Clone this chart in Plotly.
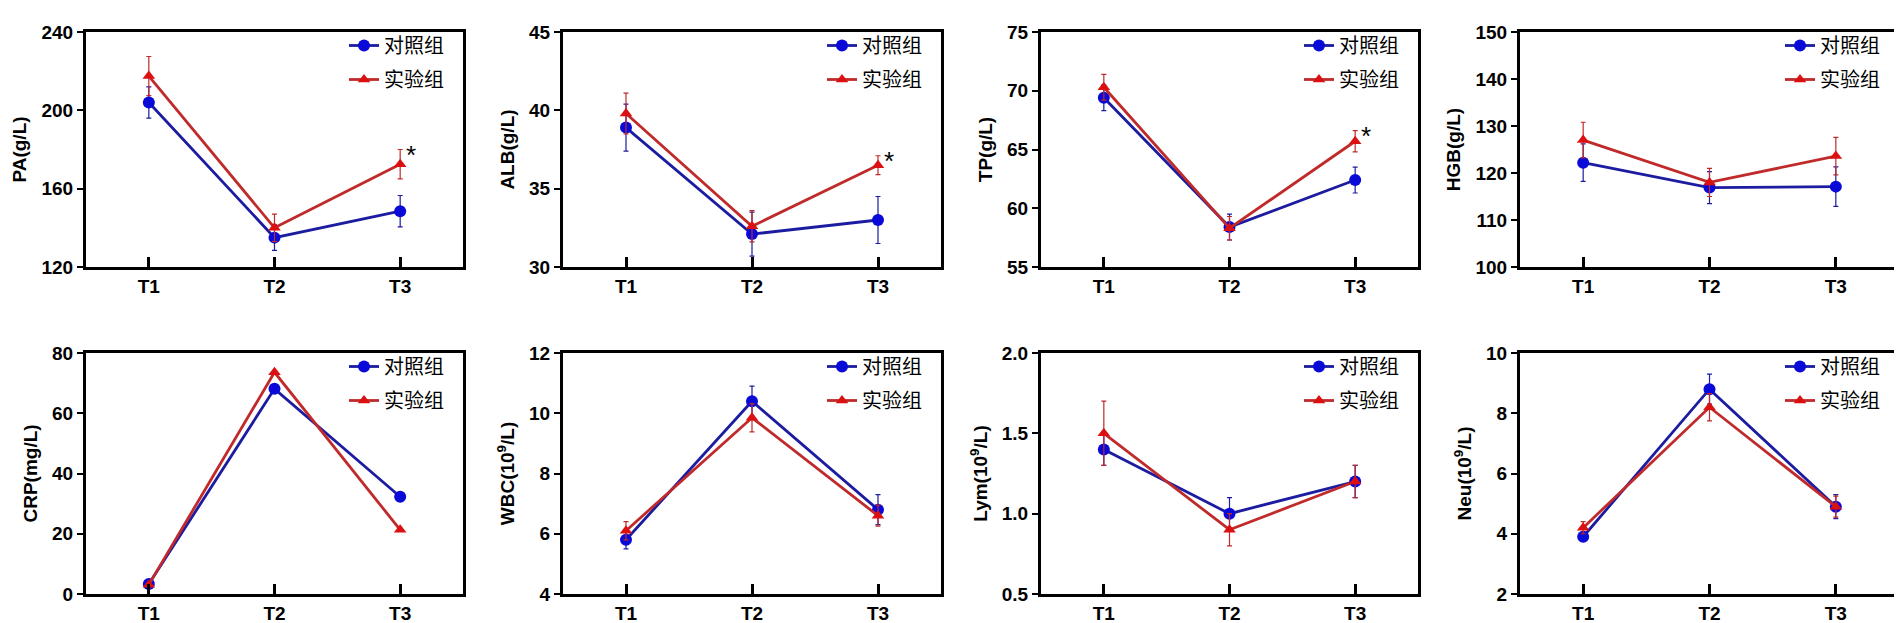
import plotly.graph_objects as go

W, H = 1902, 623

times = ["T1", "T2", "T3"]
group_names = ["对照组", "实验组"]

# values (mean, error)
pa_ctrl = [204.0, 135.0, 148.5]
pa_ctrl_err = [8.0, 6.5, 8.0]
pa_exp = [217.5, 140.0, 172.5]
pa_exp_err = [10.0, 7.0, 7.5]

alb_ctrl = [38.9, 32.1, 33.0]
alb_ctrl_err = [1.5, 1.4, 1.5]
alb_exp = [39.8, 32.6, 36.5]
alb_exp_err = [1.3, 1.0, 0.6]

tp_ctrl = [69.4, 58.4, 62.4]
tp_ctrl_err = [1.1, 1.1, 1.1]
tp_exp = [70.3, 58.3, 65.7]
tp_exp_err = [1.1, 1.0, 0.9]

hgb_ctrl = [122.2, 116.9, 117.1]
hgb_ctrl_err = [4.0, 3.4, 4.2]
hgb_exp = [127.0, 118.0, 123.6]
hgb_exp_err = [3.8, 3.0, 4.0]

crp_ctrl = [3.3, 68.1, 32.3]
crp_exp = [3.1, 73.6, 21.3]

wbc_ctrl = [5.8, 10.4, 6.8]
wbc_ctrl_err = [0.3, 0.5, 0.5]
wbc_exp = [6.1, 9.85, 6.6]
wbc_exp_err = [0.3, 0.47, 0.35]

lym_ctrl = [1.4, 1.0, 1.2]
lym_ctrl_err = [0.1, 0.1, 0.1]
lym_exp = [1.5, 0.9, 1.2]
lym_exp_err = [0.2, 0.1, 0.1]

neu_ctrl = [3.9, 8.8, 4.9]
neu_ctrl_err = [0.15, 0.5, 0.4]
neu_exp = [4.2, 8.2, 4.9]
neu_exp_err = [0.2, 0.45, 0.35]

panels = [
    ("PA(g/L)", pa_ctrl, pa_ctrl_err, pa_exp, pa_exp_err, [120, 240], 40, True),
    ("ALB(g/L)", alb_ctrl, alb_ctrl_err, alb_exp, alb_exp_err, [30, 45], 5, True),
    ("TP(g/L)", tp_ctrl, tp_ctrl_err, tp_exp, tp_exp_err, [55, 75], 5, True),
    ("HGB(g/L)", hgb_ctrl, hgb_ctrl_err, hgb_exp, hgb_exp_err, [100, 150], 10, False),
    ("CRP(mg/L)", crp_ctrl, None, crp_exp, None, [0, 80], 20, False),
    ("WBC(10<sup>9</sup>/L)", wbc_ctrl, wbc_ctrl_err, wbc_exp, wbc_exp_err, [4, 12], 2, False),
    ("Lym(10<sup>9</sup>/L)", lym_ctrl, lym_ctrl_err, lym_exp, lym_exp_err, [0.5, 2.0], 0.5, False),
    ("Neu(10<sup>9</sup>/L)", neu_ctrl, neu_ctrl_err, neu_exp, neu_exp_err, [2, 10], 2, False),
]

# panel boxes in pixels (left, right, top, bottom)
col_px = [(78, 455), (555, 933), (1033, 1410), (1512, 1891)]
row_px = [(24, 259), (345, 586)]

blue_line, blue_mark = "#1c1ca0", "#0a0ad8"
red_line, red_mark = "#c02a2a", "#dc1010"

tick_font = dict(family="Liberation Sans, Arial", size=19, color="black", weight="bold")

fig = go.Figure()
layout = dict(
    width=W, height=H, template="none",
    margin=dict(l=0, r=0, t=0, b=0),
    paper_bgcolor="white", plot_bgcolor="white",
    annotations=[],
)

for i, (ytitle, ctrl, ctrl_err, exp, exp_err, yr, dt, star) in enumerate(panels):
    n = i + 1
    r, c = divmod(i, 4)
    left, right = col_px[c]
    top, bottom = row_px[r]
    xa = "xaxis" if n == 1 else f"xaxis{n}"
    ya = "yaxis" if n == 1 else f"yaxis{n}"
    xref = "x" if n == 1 else f"x{n}"
    yref = "y" if n == 1 else f"y{n}"
    leg = "legend" if n == 1 else f"legend{n}"

    for name, vals, errs, lc, mc, sym, msize in [
        (group_names[0], ctrl, ctrl_err, blue_line, blue_mark, "circle", 12),
        (group_names[1], exp, exp_err, red_line, red_mark, "triangle-up", 11),
    ]:
        err = None
        if errs is not None:
            err = dict(type="data", array=errs, color=lc, thickness=1.2, width=2.5)
        fig.add_trace(go.Scatter(
            x=times, y=vals, name=name, mode="lines+markers",
            line=dict(color=lc, width=2.8),
            marker=dict(color=mc, symbol=sym, size=msize),
            error_y=err, xaxis=xref, yaxis=yref,
            legend=leg, legendgroup=f"{name}{n}",
        ))

    layout[xa] = dict(
        domain=[left / W, right / W], anchor=yref,
        range=[-0.5, 2.5], type="category",
        showline=True, linewidth=3, linecolor="black", mirror=True,
        ticks="inside", ticklen=10, tickwidth=3, tickcolor="black",
        tickfont=tick_font, showgrid=False, zeroline=False, automargin=False,
    )
    layout[ya] = dict(
        domain=[(H - bottom) / H, (H - top) / H], anchor=xref,
        range=yr, dtick=dt, tick0=yr[0],
        tickformat=".1f" if dt < 1 else None,
        showline=True, linewidth=3, linecolor="black", mirror=True,
        ticks="outside", ticklen=6, tickwidth=2, tickcolor="black",
        tickfont=tick_font, showgrid=False, zeroline=False, automargin=False,
        title=dict(text=ytitle, font=tick_font, standoff=10),
    )
    layout[leg] = dict(
        x=(right - 14) / W, xanchor="right",
        y=(H - top + 6) / H, yanchor="top",
        bgcolor="rgba(0,0,0,0)", borderwidth=0,
        font=dict(family="Noto Sans CJK SC", size=20, color="black"),
        tracegroupgap=5, itemwidth=30,
    )
    if star:
        layout["annotations"].append(dict(
            x="T3", y=exp[2] + exp_err[2], xref=xref, yref=yref,
            text="*", showarrow=False, xshift=11, yshift=-5,
            font=dict(family="Liberation Sans", size=26, color="black"),
        ))

fig.update_layout(**layout)
fig.write_html("out.html")
